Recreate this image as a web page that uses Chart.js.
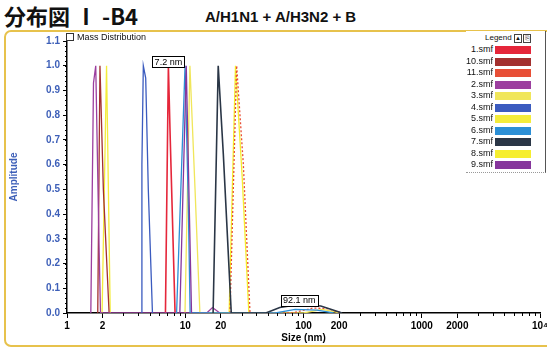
<!DOCTYPE html>
<html>
<head>
<meta charset="utf-8">
<script src="https://cdn.jsdelivr.net/npm/chart.js@4.4.1/dist/chart.umd.min.js"></script>
<style>
  html, body { margin: 0; padding: 0; background: #fff; }
  #wrap { position: relative; width: 547px; height: 354px; overflow: hidden; font-family: "Liberation Sans", Arial, sans-serif; }
  #head { position: absolute; left: 4px; top: 0px; font-family: "Noto Sans CJK JP", sans-serif; font-weight: bold; font-size: 22px; line-height: 30px; color: #111; }
  #sub { position: absolute; left: 205px; top: 8px; font-weight: bold; font-size: 15px; color: #111; }
  #frame { position: absolute; left: 4px; top: 30px; width: 560px; height: 313px; border: 2px solid #e7c24c; border-radius: 7px; }
  #chart { position: absolute; left: 0; top: 0; }
  #mass { position: absolute; left: 66px; top: 32px; font-size: 9px; color: #111; }
  #mass span { display: inline-block; width: 6px; height: 6px; border: 1px solid #333; margin-right: 3px; vertical-align: -1px; }
  #legend { position: absolute; left: 466px; top: 31px; width: 79px; height: 141px; background: #fff; border-right: 1px solid #555; border-bottom: 1px dotted #999; font-size: 9px; color: #111; }
  #legend .hdr { position: absolute; left: 19px; top: 2px; font-size: 8px; }
  #legend .btn { position: absolute; top: 3px; width: 6px; height: 7px; border: 1px solid #444; font-size: 6px; line-height: 7px; text-align: center; }
  #legend .row { position: absolute; left: 0; width: 79px; height: 11px; }
  #legend .row b { position: absolute; right: 52px; top: 0; font-weight: normal; line-height: 11px; }
  #legend .row i { position: absolute; left: 29px; top: 2px; width: 36px; height: 8px; }
</style>
</head>
<body>
<div id="wrap">
  <div id="frame"></div>
  <div id="head">分布図 Ⅰ -B4</div>
  <div id="sub">A/H1N1 + A/H3N2 + B</div>
  <canvas id="chart" width="547" height="354"></canvas>
  <div id="mass"><span></span>Mass Distribution</div>
  <div id="legend"></div>
</div>
<script>
// [size nm, amplitude] pairs for each measurement file
const smf1  = [[6.8, 0], [7.2, 1.0], [7.45, 0.72], [8.2, 0]];
const smf10 = [[1.82, 0], [1.9, 1.0], [2.03, 0.5], [2.27, 0]];
const smf11 = [[23.9, 0], [27.2, 1.0], [31.0, 0.6], [35.3, 0], [80, 0], [120, 0.02], [160, 0.018], [210, 0]];
const smf2  = [[1.59, 0], [1.675, 0.93], [1.75, 1.0], [1.865, 0.28], [1.92, 0], [15.2, 0], [17.0, 0.022], [19.6, 0]];
const smf3  = [[9.95, 0], [10.95, 1.0], [12.1, 0.5], [13.3, 0], [100, 0], [145, 0.015], [205, 0]];
const smf4  = [[4.27, 0], [4.3, 0.6], [4.42, 1.0], [4.63, 0.95], [4.87, 0.5], [5.28, 0]];
const smf5  = [[1.98, 0], [2.16, 1.0], [2.32, 0]];
const smf6  = [[8.45, 0], [9.96, 1.0], [10.6, 0.45], [11.0, 0], [58, 0], [85, 0.015], [130, 0.012], [180, 0]];
const smf7  = [[17.2, 0], [19.0, 1.0], [21.0, 0.64], [24.5, 0], [48, 0], [63, 0.022], [92.1, 0.035], [140, 0.028], [175, 0.013], [212, 0]];
const smf8  = [[23.5, 0], [26.6, 1.0], [30.3, 0.55], [34.5, 0]];
const smf9  = [[9.0, 0], [10.2, 1.0], [11.3, 0]];

const seriesNames = ['1.smf', '10.smf', '11.smf', '2.smf', '3.smf', '4.smf', '5.smf', '6.smf', '7.smf', '8.smf', '9.smf'];
const seriesData = [smf1, smf10, smf11, smf2, smf3, smf4, smf5, smf6, smf7, smf8, smf9];
const seriesColors = ['#e5263a', '#a3302f', '#e84f36', '#9c3f9f', '#f0e65a', '#3b5bbf', '#f3ec3c', '#2b8fd6', '#2a3646', '#f6ee2e', '#86369c'];

const xTickValues = [1, 2, 10, 20, 100, 200, 1000, 2000, 10000];
const yTickValues = [0, 0.1, 0.2, 0.3, 0.4, 0.5, 0.6, 0.7, 0.8, 0.9, 1.0, 1.1];

// peaks that carry a size tag: [series name, size]
const peakTags = [['1.smf', 7.2], ['7.smf', 92.1]];

Chart.defaults.font.family = '"Liberation Sans", Arial, sans-serif';

// short ticks between the labelled ones + size tags
const extras = {
  id: 'extras',
  afterDraw(chart) {
    const { ctx, scales: { x, y } } = chart;
    ctx.save();
    ctx.strokeStyle = '#000';
    ctx.lineWidth = 1;
    ctx.beginPath();
    for (let v = 0; v <= 1.1001; v += 0.02) {
      const py = Math.round(y.getPixelForValue(v)) + 0.5;
      ctx.moveTo(x.left - 2, py);
      ctx.lineTo(x.left, py);
    }
    for (let e = 0; e < 4; e++) {
      for (let m = 2; m <= 9; m++) {
        const v = m * Math.pow(10, e);
        if (xTickValues.includes(v)) continue;
        const px = Math.round(x.getPixelForValue(v)) + 0.5;
        ctx.moveTo(px, y.bottom);
        ctx.lineTo(px, y.bottom + 3);
      }
    }
    ctx.stroke();

    ctx.font = '9px "Liberation Sans", Arial, sans-serif';
    ctx.textAlign = 'center';
    ctx.textBaseline = 'middle';
    peakTags.forEach(([name, size]) => {
      const pts = seriesData[seriesNames.indexOf(name)];
      const pt = pts.find(p => p[0] === size);
      const cx = x.getPixelForValue(size);
      const cy = y.getPixelForValue(pt[1]) - 4;
      const text = size + ' nm';
      const w = Math.ceil(ctx.measureText(text).width) + 4;
      const bx = Math.round(cx - w / 2) + 0.5, by = Math.round(cy - 5.5) + 0.5;
      ctx.fillStyle = '#fff';
      ctx.fillRect(bx, by, w, 11);
      ctx.strokeRect(bx, by, w, 11);
      ctx.fillStyle = '#000';
      ctx.fillText(text, cx, cy + 0.5);
    });
    ctx.restore();
  }
};

const chart = new Chart(document.getElementById('chart'), {
  type: 'line',
  data: {
    datasets: seriesNames.map((name, i) => ({
      label: name,
      data: seriesData[i].map(p => ({ x: p[0], y: p[1] })),
      borderColor: seriesColors[i],
      backgroundColor: seriesColors[i],
      borderWidth: name === '7.smf' || name === '1.smf' ? 1.6 : 1.3,
      borderDash: name === '11.smf' ? [2, 2] : [],
      pointRadius: 0,
      tension: 0,
      fill: false,
      order: ['3.smf', '5.smf', '8.smf'].includes(name) ? 20 : 10 - i
    }))
  },
  options: {
    responsive: false,
    animation: false,
    devicePixelRatio: 1,
    layout: { padding: { left: 0, top: 41, right: 7, bottom: 0 } },
    plugins: { legend: { display: false }, tooltip: { enabled: false } },
    scales: {
      x: {
        type: 'logarithmic',
        min: 1,
        max: 10000,
        afterBuildTicks: s => { s.ticks = xTickValues.map(v => ({ value: v })); },
        afterFit: s => { s.height = 41; s.paddingLeft = 0; s.paddingRight = 0; },
        ticks: {
          autoSkip: false,
          maxRotation: 0,
          padding: 2,
          color: '#000',
          font: { size: 10, weight: 'bold' },
          callback: v => v === 10000 ? '10⁴' : String(v)
        },
        grid: { drawOnChartArea: false, tickLength: 5, color: '#000' },
        border: { color: '#000', width: 1.5 },
        title: { display: true, text: 'Size (nm)', color: '#000', font: { size: 10, weight: 'bold' }, padding: { top: 0, bottom: 10 } }
      },
      y: {
        min: 0,
        max: 1.1,
        afterBuildTicks: s => { s.ticks = yTickValues.map(v => ({ value: v })); },
        afterFit: s => { s.width = 67; s.paddingTop = 0; s.paddingBottom = 0; },
        ticks: {
          padding: 3,
          color: '#3d5fb8',
          font: { size: 10, weight: 'bold' },
          callback: v => Number(v).toFixed(1)
        },
        grid: { drawOnChartArea: false, tickLength: 4, color: '#000' },
        border: { color: '#000', width: 1.5 },
        title: { display: true, text: 'Amplitude', color: '#3d5fb8', font: { size: 10, weight: 'bold' }, padding: { top: 8, bottom: 0 } }
      }
    }
  },
  plugins: [extras]
});

// legend panel built from the chart's datasets
const legend = document.getElementById('legend');
legend.innerHTML = '<span class="hdr">Legend</span>' +
  '<span class="btn" style="left:48px">▲</span><span class="btn" style="left:57px">⎘</span>';
chart.data.datasets.forEach((ds, i) => {
  const row = document.createElement('div');
  row.className = 'row';
  row.style.top = (13 + i * 11.5) + 'px';
  row.innerHTML = '<b>' + ds.label + '</b><i style="background:' + ds.borderColor + '"></i>';
  legend.appendChild(row);
});
</script>
</body>
</html>
